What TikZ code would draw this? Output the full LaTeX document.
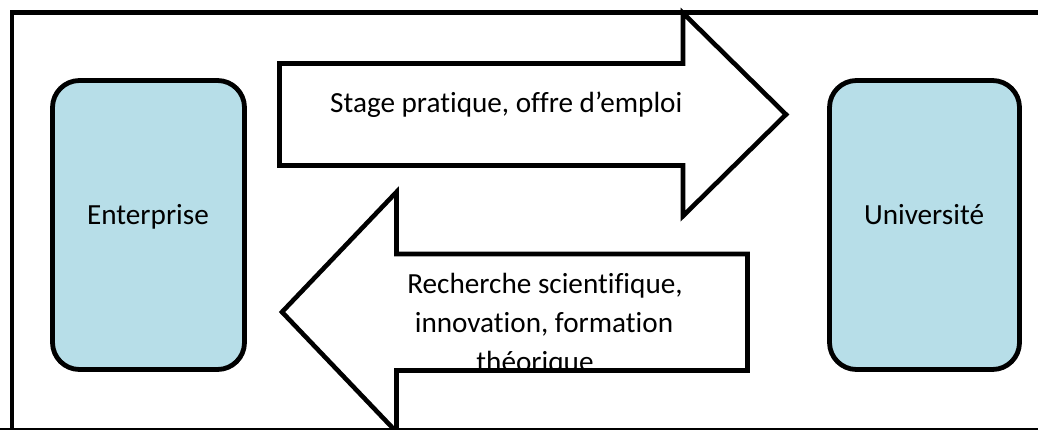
\documentclass[tikz,border=0pt]{standalone}
\usepackage{fontspec}
\setmainfont{Carlito}[Ligatures=NoCommon]
\definecolor{boxblue}{HTML}{B7DEE8}
\begin{document}
\begin{tikzpicture}[x=1pt,y=-1pt,
  txt/.style={font=\fontsize{29.2}{39.5}\selectfont, inner sep=0pt},
  partner/.style={draw=black, line width=4.8pt, fill=boxblue, rounded corners=27pt, inner sep=0pt},
  bigarrow/.style={draw=black, line width=4.6pt, line join=miter},
  frame/.style={draw=black, line width=4.6pt}]
\useasboundingbox (0,0) rectangle (1038,429);
% frame
\draw[frame] (12,431) -- (12,12.5) -- (1040,12.5);
% partner boxes
\node[partner, minimum width=192pt, minimum height=289pt] (ent) at (148.5,225) {};
\node[partner, minimum width=190pt, minimum height=289pt] (uni) at (924.5,225) {};
\node[txt, anchor=base] (entlbl) at (148,224) {Enterprise};
\node[txt, anchor=base] (unilbl) at (924,224) {Université};
% upper arrow (to the right)
\coordinate (ua1) at (279.5,63.5);
\coordinate (ua2) at (683,63.5);
\coordinate (ua3) at (683,13);
\coordinate (ua4) at (786,114.5);
\coordinate (ua5) at (683,216);
\coordinate (ua6) at (683,165.5);
\coordinate (ua7) at (279.5,165.5);
\draw[bigarrow, fill=white] (ua1) -- (ua2) -- (ua3) -- (ua4) -- (ua5) -- (ua6) -- (ua7) -- cycle;
\node[txt, anchor=base west] (utext) at (330,112) {Stage pratique, offre d’emploi};
% lower arrow (to the left)
\coordinate (la1) at (747.5,254);
\coordinate (la2) at (396.5,254);
\coordinate (la3) at (396.5,192);
\coordinate (la4) at (282,312);
\coordinate (la5) at (396.5,432);
\coordinate (la6) at (396.5,370.5);
\coordinate (la7) at (747.5,370.5);
\fill[white] (la1) -- (la2) -- (la3) -- (la4) -- (la5) -- (la6) -- (la7) -- cycle;
\node[txt, anchor=base] (lt1) at (545,293) {Recherche scientifique,};
\node[txt, anchor=base] (lt2) at (544,332) {innovation, formation};
\node[txt, anchor=base] (lt3) at (535,371) {théorique};
\fill[white] (400,372) rectangle (744,427);
\draw[bigarrow] (la1) -- (la2) -- (la3) -- (la4) -- (la5) -- (la6) -- (la7) -- cycle;
% bottom edge of frame
\draw[black, line width=2pt] (0,428.5) -- (1038,428.5);
\end{tikzpicture}
\end{document}
